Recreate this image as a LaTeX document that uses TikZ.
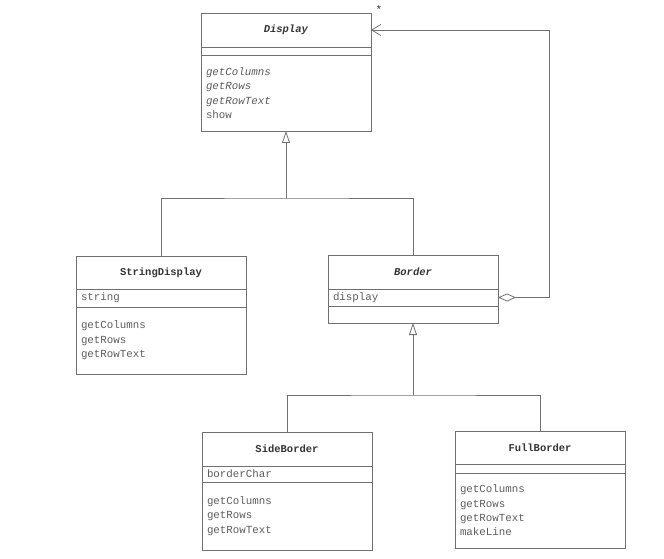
\documentclass[tikz,border=0pt]{standalone}
\usepackage{fontspec}
\setmonofont{Liberation Mono}
\usetikzlibrary{positioning,arrows.meta}
\definecolor{umlline}{HTML}{707070}
\definecolor{umltext}{HTML}{5C5C5C}
\definecolor{umlname}{HTML}{353535}
\tikzset{
  part/.style={draw=umlline,line width=0.8pt,text width=160pt,inner xsep=5pt,inner ysep=0pt,outer sep=0pt,
    align=left,text=umltext,font=\ttfamily\fontsize{10.8}{14.3}\selectfont},
  namepart/.style={part,align=center,text=umlname,font=\ttfamily\bfseries\fontsize{10.5}{14.3}\selectfont},
  link/.style={draw=umlline,line width=0.8pt},
  inh/.style={link,-{Triangle[open,length=12pt,width=8pt]}},
  agg/.style={link,{Diamond[open,length=18pt,width=8pt]}-{Straight Barb[length=9pt,width=11pt]}}
}
\begin{document}
\begin{tikzpicture}[x=1pt,y=-1pt]
  \useasboundingbox (0,0) rectangle (664,559);
  % Display
  \node[namepart,minimum height=34pt,anchor=north west] (dispName) at (201,13) {\textit{Display}};
  \node[part,minimum height=8pt,below=0pt of dispName] (dispAttr) {};
  \node[part,minimum height=76pt,below=0pt of dispAttr] (dispOps) {\textit{getColumns}\\\textit{getRows}\\\textit{getRowText}\\show};
  \node[text=umlname,font=\ttfamily\fontsize{11}{12}\selectfont] (mult) at (379,10) {*};
  % StringDisplay
  \node[namepart,minimum height=33pt,anchor=north west] (sdName) at (76,256) {StringDisplay};
  \node[part,minimum height=18pt,below=0pt of sdName] (sdAttr) {string};
  \node[part,minimum height=67pt,below=0pt of sdAttr] (sdOps) {getColumns\\getRows\\getRowText};
  % Border
  \node[namepart,minimum height=34pt,anchor=north west] (bdName) at (328,255) {\textit{Border}};
  \node[part,minimum height=17pt,below=0pt of bdName] (bdAttr) {display};
  \node[part,minimum height=17pt,below=0pt of bdAttr] (bdOps) {};
  % SideBorder
  \node[namepart,minimum height=34pt,anchor=north west] (sbName) at (202,432) {SideBorder};
  \node[part,minimum height=16pt,below=0pt of sbName] (sbAttr) {borderChar};
  \node[part,minimum height=68pt,below=0pt of sbAttr] (sbOps) {getColumns\\getRows\\getRowText};
  % FullBorder
  \node[namepart,minimum height=33pt,anchor=north west] (fbName) at (455,431) {FullBorder};
  \node[part,minimum height=9pt,below=0pt of fbName] (fbAttr) {};
  \node[part,minimum height=75pt,below=0pt of fbAttr] (fbOps) {getColumns\\getRows\\getRowText\\makeLine};
  % inheritance
  \coordinate (jTop) at (dispOps.south |- 0,198);
  \coordinate (jBot) at (bdOps.south |- 0,395);
  \draw[link] (sdName.north) |- (jTop) -| (bdName.north);
  \draw[inh] (jTop) -- (dispOps.south);
  \draw[link] (sbName.north) |- (jBot) -| (fbName.north);
  \draw[inh] (jBot) -- (bdOps.south);
  % aggregation
  \coordinate (loop) at (549,0);
  \draw[agg] (bdAttr.east) -| (loop |- dispName.east) -- (dispName.east);
\end{tikzpicture}
\end{document}
